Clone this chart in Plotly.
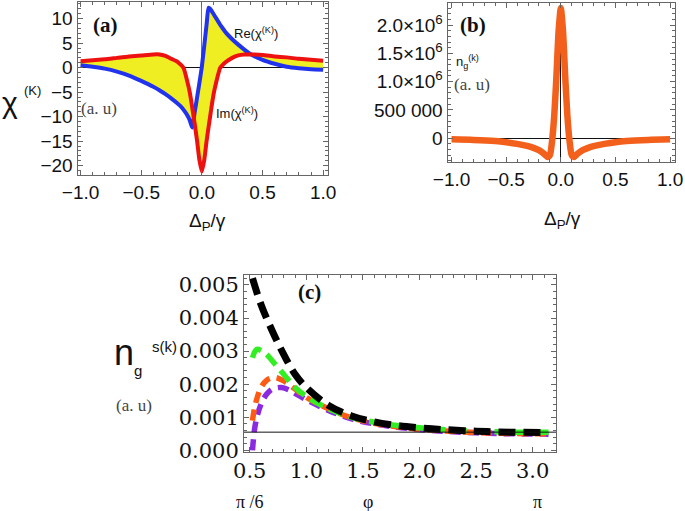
import plotly.graph_objects as go

# ---------------- data ----------------
# panel (a): susceptibility
XA = [-1.0, -0.9, -0.8, -0.7, -0.6, -0.5, -0.4, -0.35, -0.3, -0.25,
      -0.2, -0.17, -0.15, -0.12, -0.1, -0.08, -0.06, -0.04, -0.02, 0.0,
      0.02, 0.04, 0.055, 0.07, 0.08, 0.1, 0.12, 0.15, 0.17, 0.2,
      0.25, 0.3, 0.35, 0.4, 0.5, 0.6, 0.7, 0.8, 0.9, 1.0]
RE_CHI = [0.5, 0.2, -0.2, -0.8, -1.6, -2.7, -3.9, -4.6, -5.4, -6.3,
          -7.3, -8.0, -8.6, -9.7, -10.7, -12.2, -9.3, -6.2, -3.1, 0.2,
          4.5, 9.0, 12.2, 12.0, 11.6, 10.8, 10.0, 8.8, 8.1, 7.1,
          5.8, 4.7, 3.7, 2.8, 1.6, 0.8, 0.2, -0.1, -0.3, -0.4]
IM_CHI = [1.3, 1.5, 1.7, 2.0, 2.3, 2.5, 2.7, 2.7, 2.4, 1.8,
          1.2, 0.5, -0.1, -2.8, -5.0, -8.0, -11.3, -14.8, -18.8, -21.2,
          -18.8, -14.8, -12.2, -9.7, -8.0, -5.0, -2.8, -0.1, 0.5, 1.2,
          2.0, 2.5, 2.7, 2.7, 2.6, 2.3, 2.1, 1.8, 1.6, 1.4]

# panel (b): group index
XB = [-1.0, -0.8, -0.6, -0.5, -0.4, -0.3, -0.25, -0.2, -0.15, -0.12, -0.1,
      -0.08, -0.06, -0.04, -0.02, 0.0, 0.02, 0.04, 0.06, 0.08, 0.1, 0.12,
      0.15, 0.2, 0.25, 0.3, 0.4, 0.5, 0.6, 0.8, 1.0]
NG = [-0.02e6, -0.03e6, -0.05e6, -0.07e6, -0.10e6, -0.14e6, -0.17e6, -0.21e6, -0.28e6, -0.33e6, -0.30e6,
      -0.05e6, 0.40e6, 1.10e6, 1.90e6, 2.30e6, 1.90e6, 1.10e6, 0.40e6, -0.05e6, -0.30e6, -0.33e6,
      -0.28e6, -0.21e6, -0.17e6, -0.14e6, -0.10e6, -0.07e6, -0.05e6, -0.03e6, -0.02e6]
B_YTICKS = [0, 500000, 1000000, 1500000, 2000000]
B_YTEXT = ["0", "500 000", "1.0×10<sup>6</sup>", "1.5×10<sup>6</sup>", "2.0×10<sup>6</sup>"]

# panel (c): n_g vs phi
XC_BLACK = [0.524, 0.6, 0.7, 0.8, 0.9, 1.0, 1.2, 1.4, 1.6, 1.8, 2.0, 2.2, 2.5, 2.8, 3.14]
C_BLACK = [0.0052, 0.0044, 0.0036, 0.0029, 0.0023, 0.0019, 0.00135, 0.00104, 0.00086,
           0.00075, 0.00068, 0.00063, 0.00058, 0.00055, 0.00054]
XC_GREEN = [0.524, 0.56, 0.6, 0.65, 0.7, 0.8, 0.9, 1.0, 1.2, 1.4, 1.6, 1.8, 2.0, 2.2, 2.5, 2.8, 3.14]
C_GREEN = [0.0028, 0.00305, 0.00302, 0.0029, 0.0027, 0.0023, 0.0019, 0.00163, 0.00125, 0.001,
           0.00085, 0.00075, 0.00068, 0.00063, 0.00058, 0.00055, 0.00055]
XC_ORANGE = [0.524, 0.55, 0.6, 0.65, 0.72, 0.8, 0.9, 1.0, 1.2, 1.4, 1.6, 1.8, 2.0, 2.2, 2.5, 2.8, 3.14]
C_ORANGE = [0.0009, 0.0014, 0.0019, 0.00212, 0.0022, 0.0021, 0.00185, 0.0016, 0.00125, 0.00098,
            0.00082, 0.00071, 0.00064, 0.00059, 0.00054, 0.00051, 0.0005]
XC_PURPLE = [0.524, 0.55, 0.6, 0.65, 0.7, 0.78, 0.85, 0.9, 1.0, 1.2, 1.4, 1.6, 1.8, 2.0, 2.2, 2.5, 2.8, 3.14]
C_PURPLE = [0.0, 0.0008, 0.0014, 0.0017, 0.00185, 0.0019, 0.00182, 0.00172, 0.00153, 0.0012,
            0.00095, 0.0008, 0.0007, 0.00063, 0.00058, 0.00053, 0.0005, 0.00049]
C_AXIS_ORIGIN = 0.00055

# ---------------- figure ----------------
W, H = 685, 511
def px(x):
    return x / W
def py(y):
    return 1 - y / H

fig = go.Figure()

SPL = dict(shape="spline", smoothing=0.5)

# (a) fill between curves
fig.add_trace(go.Scatter(x=XA, y=IM_CHI, mode="lines", line=dict(width=0, color="rgba(0,0,0,0)", **SPL),
                         xaxis="x", yaxis="y", showlegend=False, hoverinfo="skip"))
fig.add_trace(go.Scatter(x=XA, y=RE_CHI, mode="lines", line=dict(width=0, color="rgba(0,0,0,0)", **SPL),
                         fill="tonexty", fillcolor="#EEEE22", xaxis="x", yaxis="y", showlegend=False,
                         hoverinfo="skip"))
fig.add_trace(go.Scatter(x=XA, y=RE_CHI, mode="lines", line=dict(width=4, color="#2233EE", **SPL),
                         xaxis="x", yaxis="y", showlegend=False))
fig.add_trace(go.Scatter(x=XA, y=IM_CHI, mode="lines", line=dict(width=4, color="#EE1111", **SPL),
                         xaxis="x", yaxis="y", showlegend=False))

# (b)
fig.add_trace(go.Scatter(x=XB, y=NG, mode="lines", line=dict(width=6.5, color="#F2601C", shape="spline",
                                                          smoothing=0.6),
                         xaxis="x2", yaxis="y2", showlegend=False))

# (c)
fig.add_trace(go.Scatter(x=XC_PURPLE, y=C_PURPLE, mode="lines",
                         line=dict(width=5.5, color="#8A2BE2", dash="11px,7px", shape="spline"),
                         xaxis="x3", yaxis="y3", showlegend=False))
fig.add_trace(go.Scatter(x=XC_ORANGE, y=C_ORANGE, mode="lines",
                         line=dict(width=5.5, color="#FF5A14", dash="11px,7px", shape="spline"),
                         xaxis="x3", yaxis="y3", showlegend=False))
fig.add_trace(go.Scatter(x=XC_GREEN, y=C_GREEN, mode="lines",
                         line=dict(width=5.5, color="#33EE22", dash="14px,7px", shape="spline"),
                         xaxis="x3", yaxis="y3", showlegend=False))
fig.add_trace(go.Scatter(x=XC_BLACK, y=C_BLACK, mode="lines",
                         line=dict(width=7, color="#000000", dash="17px,8px", shape="spline"),
                         xaxis="x3", yaxis="y3", showlegend=False))

FRAME = "#666666"
sans_tick = dict(family="Liberation Sans, Arial, sans-serif", size=19, color="#111111")
serif_tick = dict(family="DejaVu Serif, serif", size=21, color="#111111")

def ax(domain, rng, dtick, minor_dtick, font, anchor, **kw):
    d = dict(domain=domain, range=rng, anchor=anchor, showgrid=False, automargin=False,
             showline=True, linecolor=FRAME, linewidth=1, mirror="ticks",
             ticks="inside", ticklen=5, tickcolor=FRAME, tickwidth=1,
             tickfont=font, dtick=dtick,
             minor=dict(dtick=minor_dtick, ticks="inside", ticklen=3, tickcolor=FRAME, showgrid=False))
    d.update(kw)
    return d

fig.update_layout(
    width=W, height=H, margin=dict(l=0, r=0, t=0, b=0, pad=0, autoexpand=False),
    paper_bgcolor="white", plot_bgcolor="white",
    xaxis=ax([px(77.5), px(328)], [-1.025, 1.04], 0.5, 0.1, sans_tick, "y",
             tick0=-1.0, tickformat=".1f", zeroline=True, zerolinecolor="#777777", zerolinewidth=1.2),
    yaxis=ax([py(175), py(2)], [-21.9, 13.4], 5, 1, sans_tick, "x",
             tick0=0, zeroline=True, zerolinecolor="#111111", zerolinewidth=1),
    xaxis2=ax([px(447.5), px(675)], [-1.037, 1.045], 0.5, 0.1, sans_tick, "y2",
              tick0=-1.0, tickformat=".1f", zeroline=True, zerolinecolor="#111111", zerolinewidth=1.2),
    yaxis2=ax([py(162), py(3)], [-0.42e6, 2.39e6], 500000, 100000, sans_tick, "x2",
              tickmode="array", tickvals=B_YTICKS, ticktext=B_YTEXT,
              zeroline=True, zerolinecolor="#111111", zerolinewidth=1),
    xaxis3=ax([px(244), px(556)], [0.449, 3.206], 0.5, 0.1, serif_tick, "y3",
              tick0=0.5, tickformat=".1f", zeroline=False),
    yaxis3=ax([py(452), py(275)], [-0.00005, 0.0053], 0.001, 0.0002, serif_tick, "x3",
              tick0=0, tickformat=".3f", zeroline=False),
)

fig.add_shape(type="line", xref="x3 domain", yref="y3", x0=0, x1=1,
              y0=C_AXIS_ORIGIN, y1=C_AXIS_ORIGIN, line=dict(color="#111111", width=1))

def ann(text, x, y, size, family="Liberation Sans, Arial, sans-serif", color="#111111", xanchor="center"):
    fig.add_annotation(text=text, x=px(x), y=py(y), xref="paper", yref="paper",
                       showarrow=False, xanchor=xanchor, yanchor="middle", borderpad=0,
                       font=dict(size=size, family=family, color=color))

SERIF_T = "Liberation Serif, Times New Roman, serif"
# (a)
ann("χ", 1, 102, 30, xanchor="left")
ann("(K)", 23, 90, 13, xanchor="left")
ann("(a. u)", 80, 108, 17, family=SERIF_T, color="#444444", xanchor="left")
ann("<b>(a)</b>", 92, 25, 21, family=SERIF_T, xanchor="left")
ann("Re(χ<sup>(K)</sup>)", 233, 33, 13, xanchor="left")
ann("Im(χ<sup>(K)</sup>)", 215, 113, 13, xanchor="left")
ann("Δ<sub>P</sub>/γ", 207, 222, 19)
# (b)
ann("<b>(b)</b>", 459, 25, 21, family=SERIF_T, xanchor="left")
ann("n<sub>g</sub><sup>(k)</sup>", 455, 62, 13, xanchor="left")
ann("(a. u)", 453, 85, 17, family=SERIF_T, color="#444444", xanchor="left")
ann("Δ<sub>P</sub>/γ", 562, 220, 19)
# (c)
ann("<b>(c)</b>", 297, 292, 21, family=SERIF_T, xanchor="left")
ann("n", 113, 352, 36, xanchor="left")
ann("g", 133, 370, 15, xanchor="left")
ann("s(k)", 151, 346, 15, xanchor="left")
ann("(a. u)", 115, 405, 17, family=SERIF_T, color="#444444", xanchor="left")
ann("π /6", 250, 502, 18, family=SERIF_T)
ann("φ", 368, 502, 18, family=SERIF_T)
ann("π", 537, 502, 18, family=SERIF_T)

fig.write_html("out.html", config={"displayModeBar": False},
               post_script="document.body.style.margin='0px';document.body.style.overflow='hidden';")
